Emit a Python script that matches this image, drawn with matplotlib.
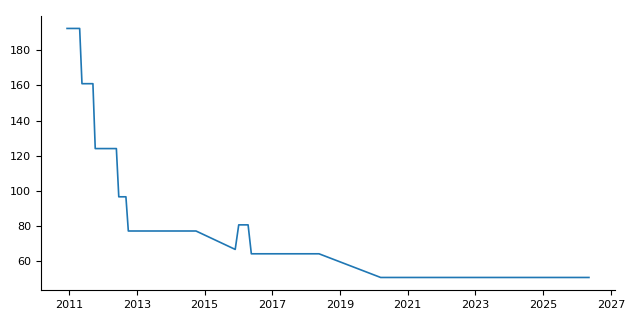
import datetime as dt
import matplotlib
matplotlib.use("Agg")
import matplotlib.pyplot as plt
import matplotlib.dates as mdates

# change points of the series (date, value)
dates = ["2010-12-10", "2011-04-25", "2011-05-20", "2011-09-15", "2011-10-10",
         "2012-05-25", "2012-06-20", "2012-09-05", "2012-10-01", "2014-10-01",
         "2015-11-28", "2016-01-05", "2016-04-15", "2016-05-20", "2018-05-20",
         "2020-03-15", "2026-05-10"]
values = [192.5, 192.5, 161, 161, 124,
          124, 96.5, 96.5, 77, 77,
          66.5, 80.5, 80.5, 64, 64,
          50.5, 50.5]
tick_years = [2011, 2013, 2015, 2017, 2019, 2021, 2023, 2025, 2027]

x = [dt.datetime.strptime(d, "%Y-%m-%d") for d in dates]

fig, ax = plt.subplots(figsize=(6.4, 3.2), dpi=100)
fig.subplots_adjust(left=0.064, right=0.961, bottom=0.094, top=0.95)
ax.plot(x, values, color="#1f77b4", linewidth=1.2)

ax.set_xticks([dt.datetime(y, 1, 1) for y in tick_years])
ax.xaxis.set_major_formatter(mdates.DateFormatter("%Y"))
ax.tick_params(labelsize=8)
ax.spines["top"].set_visible(False)
ax.spines["right"].set_visible(False)

fig.savefig("out.png")
